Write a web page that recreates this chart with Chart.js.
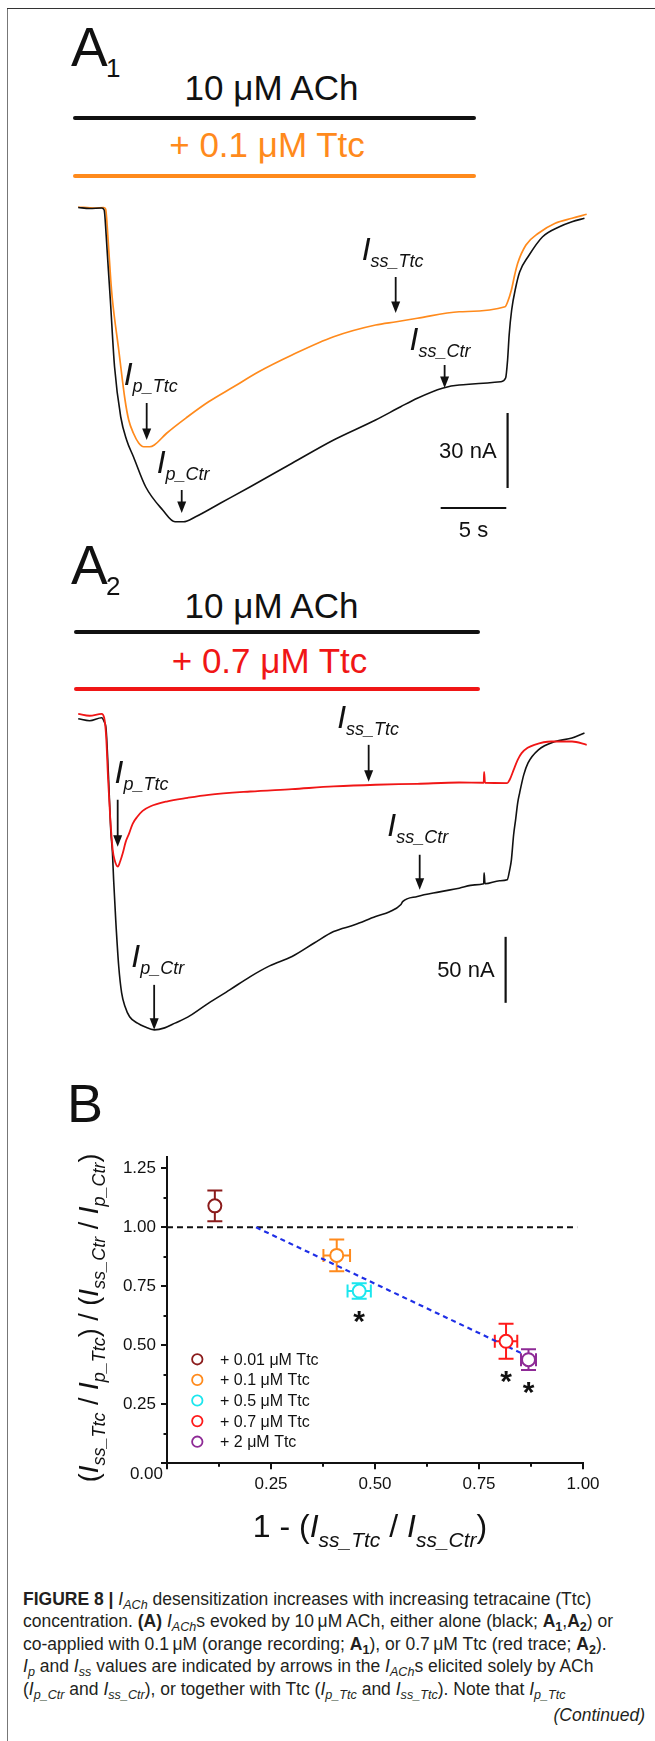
<!DOCTYPE html>
<html><head><meta charset="utf-8">
<script src="https://cdn.jsdelivr.net/npm/chart.js@4.4.1/dist/chart.umd.min.js"></script>
<style>
html,body{margin:0;padding:0;background:#fff;}
body{width:655px;height:1741px;position:relative;overflow:hidden;font-family:'Liberation Sans',Arial,Helvetica,sans-serif;color:#111;}
.abs{position:absolute;white-space:nowrap;line-height:1;}
canvas{position:absolute;}
.bar{position:absolute;height:4px;border-radius:2px;}
#caption{position:absolute;left:23px;top:1587.7px;font-size:17.5px;line-height:22.5px;color:#231f20;white-space:nowrap;}
#caption sub{font-size:0.72em;line-height:0;vertical-align:-0.3em;}
#cont{position:absolute;right:10px;font-size:17.5px;line-height:1;color:#231f20;font-style:italic;}
</style></head>
<body>
<div style="position:absolute;left:7px;top:8px;width:1px;height:1733px;background:#777"></div>
<div style="position:absolute;left:7px;top:8px;width:648px;height:1px;background:#333"></div>

<div class="bar" style="left:73px;top:116px;width:403px;background:#111"></div>
<div class="bar" style="left:73px;top:174px;width:403px;background:#ff8a1c"></div>
<div class="bar" style="left:74px;top:630px;width:406px;background:#111"></div>
<div class="bar" style="left:74px;top:687px;width:406px;background:#f01616"></div>

<canvas id="a1" width="551" height="375" style="left:58px;top:183px"></canvas>
<canvas id="a2" width="551" height="343" style="left:58px;top:699px"></canvas>
<canvas id="b" width="655" height="420" style="left:0px;top:1140px"></canvas>

<div id="caption"><b>FIGURE 8 |</b> <i>I</i><sub><i>ACh</i></sub> desensitization increases with increasing tetracaine (Ttc)<br>concentration. <b>(A)</b> <i>I</i><sub><i>ACh</i></sub>s evoked by 10&#8201;μM ACh, either alone (black; <b>A<sub>1</sub></b>,<b>A<sub>2</sub></b>) or<br>co-applied with 0.1&#8201;μM (orange recording; <b>A<sub>1</sub></b>), or 0.7&#8201;μM Ttc (red trace; <b>A<sub>2</sub></b>).<br><i>I</i><sub><i>p</i></sub> and <i>I</i><sub><i>ss</i></sub> values are indicated by arrows in the <i>I</i><sub><i>ACh</i></sub>s elicited solely by ACh<br>(<i>I</i><sub><i>p_Ctr</i></sub> and <i>I</i><sub><i>ss_Ctr</i></sub>), or together with Ttc (<i>I</i><sub><i>p_Ttc</i></sub> and <i>I</i><sub><i>ss_Ttc</i></sub>). Note that <i>I</i><sub><i>p_Ttc</i></sub></div>
<div id="cont" style="top:1706.9px">(Continued)</div>

<script>
// ---------------- DATA ----------------
// Panel A1 traces: [time (s), current (nA)]
const a1Black = [[0.04,0.2],[0.91,-0.2],[1.83,0],[2.02,-0.8],[2.17,-10.8],[2.29,-20.8],[2.49,-36.8],[2.81,-63.5],[3.28,-83.5],[3.73,-92.8],[4.25,-99.5],[5.18,-111.5],[6.48,-120.8],[7.42,-125.5],[8.06,-125.5],[8.99,-123.5],[10.9,-118],[13.16,-111.5],[16.34,-102.1],[19.51,-92.8],[22.71,-84.8],[24.62,-79.5],[25.89,-76.1],[27.8,-72.1],[29.08,-70.8],[32.24,-69.5],[32.62,-68],[32.77,-60.8],[32.89,-50.8],[33.08,-40.8],[33.38,-32],[33.69,-25.6],[34.33,-19.5],[35.44,-11.5],[36.72,-7.5],[37.68,-5.5],[38.63,-4.1]];
const a1Orange = [[0.04,0.4],[1.3,0],[1.98,0.2],[2.13,-0.4],[2.32,-12.8],[2.52,-28.8],[2.65,-36.8],[3.13,-56.8],[3.61,-76.8],[3.89,-84.8],[4.25,-90.1],[4.65,-94],[5.03,-95.5],[5.49,-95.5],[5.84,-94.8],[6.78,-90.1],[8.38,-83.5],[9.98,-77.5],[11.89,-71.5],[13.8,-65.5],[16.34,-58.8],[19.51,-51.5],[22.71,-46.8],[24.3,-45.5],[25.89,-44.1],[29.08,-41.5],[32.58,-39.5],[32.77,-37.6],[33.06,-32.8],[33.31,-26.8],[33.54,-22.1],[34.17,-14.8],[35.12,-10.1],[36.4,-6.1],[37.68,-4.1],[38.8,-2.5]];
// Panel A2 traces: [time (s), current (nA)]
const a2Black = [[0.04,0],[0.91,-1.5],[1.83,0.8],[2.02,-2.3],[2.17,-8.3],[2.36,-46.2],[2.52,-84.2],[2.65,-101.6],[2.74,-122],[2.9,-152.4],[3.13,-187.8],[3.35,-207.7],[3.61,-218.1],[3.96,-225.9],[4.56,-230.7],[5.11,-233.5],[5.84,-235.8],[6.63,-234.3],[7.42,-230.7],[8.54,-225.2],[9.98,-215.5],[11.59,-205.5],[13.16,-195.4],[14.63,-187.3],[16.34,-180.2],[18.06,-169.8],[19.51,-161.3],[21.11,-156.2],[22.71,-149.9],[23.78,-146.3],[24.62,-141],[24.77,-138.6],[25.89,-134.7],[27.59,-131.2],[29.08,-128.4],[30.26,-125.9],[30.95,-125.1],[30.98,-116.8],[31.05,-125.1],[32.16,-122.8],[32.74,-122.1],[32.93,-114.5],[33.06,-106.9],[33.23,-87.9],[33.38,-76.6],[33.54,-63.7],[33.69,-56.1],[34,-42.5],[34.33,-33.4],[35.12,-23.5],[36.4,-17.2],[37.68,-14.6],[38.63,-10.8]];
const a2Red = [[0.04,3.8],[0.91,2.3],[1.83,3.8],[2.02,0.8],[2.17,-13.4],[2.32,-46.2],[2.49,-76.6],[2.67,-99.3],[2.81,-106.9],[3.06,-112],[3.23,-108.4],[3.44,-101.8],[3.66,-93.3],[3.93,-86.7],[4.19,-79.6],[4.56,-74.1],[4.95,-69.8],[5.52,-66.5],[6.78,-62.7],[8.38,-59.9],[9.98,-57.6],[13.16,-55.1],[16.34,-53.3],[19.51,-51.3],[22.71,-50],[25.89,-49.3],[29.08,-48.3],[30.95,-48.5],[30.98,-40.2],[31.05,-48.5],[32.74,-48.7],[32.93,-46.2],[33.23,-38.7],[33.54,-31.1],[33.84,-26],[34.3,-22],[34.81,-19.7],[36.08,-17.2],[37.68,-17.2],[38.8,-19.7]];
// Arrow tips and label anchors, in data units [time, current]
const a1Subs = ['ss_Ttc','ss_Ctr','p_Ttc','p_Ctr'];
const a1Tips = [[24.24,-42],[27.97,-72],[5.26,-92.8],[7.93,-122]];
const a1LabelAt = [[21.65,-20.8],[25.3,-56.8],[3.51,-70.8],[6.02,-106]];
const a2Subs = ['ss_Ttc','p_Ttc','ss_Ctr','p_Ctr'];
const a2Tips = [[22.18,-47.8],[3.05,-97],[26.07,-129.6],[5.83,-235.8]];
const a2LabelAt = [[19.78,-7.1],[2.81,-48.7],[23.6,-89.2],[4.09,-187.8]];
// Panel B
const bLabels = ['+ 0.01 μM Ttc','+ 0.1 μM Ttc','+ 0.5 μM Ttc','+ 0.7 μM Ttc','+ 2 μM Ttc'];
const bX = [0.115, 0.408, 0.462, 0.815, 0.869];
const bY = [1.091, 0.881, 0.730, 0.517, 0.439];
const bXErr = [0, 0.032, 0.028, 0.027, 0.018];
const bYErr = [0.065, 0.067, 0.033, 0.074, 0.044];
const bSignif = [false, false, true, true, true];
const fitX = [0.214, 0.873];
const fitY = [1.0, 0.449];
const refX = [0, 0.986];
const refY = [1, 1];
const xTickVals = [0.25, 0.5, 0.75, 1.0];
const yTickVals = [0, 0.25, 0.5, 0.75, 1.0, 1.25];

// ---------------- HELPERS ----------------
const FF = "'Liberation Sans', Arial, Helvetica, sans-serif";
Chart.defaults.font.family = FF;
Chart.defaults.color = '#111';

function lab(html, x, base, fs, opt) {
  opt = opt || {};
  const d = document.createElement('div');
  d.className = 'abs';
  d.innerHTML = html;
  d.style.fontSize = fs + 'px';
  d.style.left = x + 'px';
  d.style.top = (base - 0.8465 * fs) + 'px';
  if (opt.color) d.style.color = opt.color;
  if (opt.align === 'center') d.style.transform = 'translateX(-50%)';
  if (opt.align === 'right') d.style.transform = 'translateX(-100%)';
  document.body.appendChild(d);
}
lab('A', 71, 67, 55);
lab('1', 106, 77, 26);
lab('10 μM ACh', 271.5, 100, 35, {align:'center'});
lab('+ 0.1 μM Ttc', 267, 157, 35, {align:'center', color:'#ff8a1c'});
lab('A', 71, 585, 55);
lab('2', 106, 595, 26);
lab('10 μM ACh', 271.5, 618, 35, {align:'center'});
lab('+ 0.7 μM Ttc', 269.5, 673, 35, {align:'center', color:'#f01616'});
lab('B', 67, 1122, 54);

function drawRich(ctx, parts, x, y, align) {
  let w = 0;
  const ws = parts.map(p => { ctx.font = p[1]; const m = ctx.measureText(p[0]).width; w += m; return m; });
  let cx = align === 'center' ? x - w / 2 : (align === 'right' ? x - w : x);
  parts.forEach((p, i) => { ctx.font = p[1]; ctx.fillText(p[0], cx, y + (p[2] || 0)); cx += ws[i]; });
}

const traceAnn = {
  id: 'traceAnn',
  afterDatasetsDraw(chart, args, o) {
    const ctx = chart.ctx, xs = chart.scales.x, ys = chart.scales.y;
    ctx.save();
    ctx.fillStyle = '#111'; ctx.strokeStyle = '#111';
    ctx.textBaseline = 'alphabetic'; ctx.textAlign = 'left';
    o.tips.forEach((t, k) => {
      const px = xs.getPixelForValue(t[0]), py = ys.getPixelForValue(t[1]);
      const len = o.lens[k];
      ctx.lineWidth = 1.8;
      ctx.beginPath(); ctx.moveTo(px, py - len); ctx.lineTo(px, py - 9); ctx.stroke();
      ctx.beginPath(); ctx.moveTo(px - 4.5, py - 11.5); ctx.lineTo(px + 4.5, py - 11.5); ctx.lineTo(px, py); ctx.closePath(); ctx.fill();
    });
    o.labelAt.forEach((l, k) => {
      const px = xs.getPixelForValue(l[0]), py = ys.getPixelForValue(l[1]);
      drawRich(ctx, [['I', 'italic 32px ' + FF, 0], [o.subs[k], 'italic 18px ' + FF, 7]], px, py, 'left');
    });
    ctx.lineWidth = 2.2;
    const sb = o.scaleBar;
    const vx = xs.getPixelForValue(sb.vx);
    ctx.beginPath(); ctx.moveTo(vx, ys.getPixelForValue(sb.vy0)); ctx.lineTo(vx, ys.getPixelForValue(sb.vy0 - sb.nA)); ctx.stroke();
    ctx.font = '22px ' + FF; ctx.textAlign = 'right'; ctx.textBaseline = 'middle';
    ctx.fillText(sb.nA + ' nA', xs.getPixelForValue(sb.vx) - 11, ys.getPixelForValue(sb.vy0 - sb.nA / 2) + 1);
    if (sb.sec) {
      const hy = ys.getPixelForValue(sb.hy);
      ctx.beginPath(); ctx.moveTo(xs.getPixelForValue(sb.hx0), hy); ctx.lineTo(xs.getPixelForValue(sb.hx0 + sb.sec), hy); ctx.stroke();
      ctx.textAlign = 'center'; ctx.textBaseline = 'alphabetic';
      ctx.fillText(sb.sec + ' s', xs.getPixelForValue(sb.hx0 + sb.sec / 2), hy + 29);
    }
    ctx.restore();
  }
};

function pts(arr) { return arr.map(p => ({x: p[0], y: p[1]})); }

function traceChart(id, sets, ymin, ymax, ann) {
  return new Chart(document.getElementById(id), {
    type: 'line',
    data: { datasets: sets.map(s => ({
      data: pts(s.d), borderColor: s.c, borderWidth: s.w, pointRadius: 0,
      cubicInterpolationMode: 'monotone', fill: false
    })) },
    options: {
      responsive: false, animation: false, devicePixelRatio: 1,
      layout: { padding: 0 },
      scales: {
        x: { type: 'linear', min: -1.5, max: 40.5, display: false },
        y: { type: 'linear', min: ymin, max: ymax, display: false }
      },
      plugins: { legend: { display: false }, tooltip: { enabled: false }, traceAnn: ann }
    },
    plugins: [traceAnn]
  });
}

traceChart('a1', [{d: a1Black, c: '#111', w: 1.6}, {d: a1Orange, c: '#ff8a1c', w: 1.7}], -140, 10, {
  tips: a1Tips, lens: [36, 23, 37, 23], labelAt: a1LabelAt, subs: a1Subs,
  scaleBar: { vx: 32.77, vy0: -82, nA: 30, hx0: 27.67, hy: -120, sec: 5 }
});
traceChart('a2', [{d: a2Red, c: '#f01616', w: 1.8}, {d: a2Black, c: '#111', w: 1.6}], -245, 15, {
  tips: a2Tips, lens: [37, 47, 35, 45], labelAt: a2LabelAt, subs: a2Subs,
  scaleBar: { vx: 32.62, vy0: -165.3, nA: 50 }
});

// ---------------- PANEL B ----------------
const bColors = ['#8b1c1c', '#ff8a1c', '#1ce6ee', '#ff1a1a', '#8e2a96'];

const bAnn = {
  id: 'bAnn',
  beforeDatasetsDraw(chart) {
    const ctx = chart.ctx, xs = chart.scales.x, ys = chart.scales.y;
    ctx.save();
    ctx.lineWidth = 2;
    bX.forEach((xv, i) => {
      ctx.strokeStyle = bColors[i];
      const px = xs.getPixelForValue(xv), py = ys.getPixelForValue(bY[i]);
      const y0 = ys.getPixelForValue(bY[i] - bYErr[i]), y1 = ys.getPixelForValue(bY[i] + bYErr[i]);
      ctx.beginPath();
      ctx.moveTo(px, y0); ctx.lineTo(px, y1);
      ctx.moveTo(px - 7.5, y0); ctx.lineTo(px + 7.5, y0);
      ctx.moveTo(px - 7.5, y1); ctx.lineTo(px + 7.5, y1);
      if (bXErr[i] > 0) {
        const x0 = xs.getPixelForValue(xv - bXErr[i]), x1 = xs.getPixelForValue(xv + bXErr[i]);
        ctx.moveTo(x0, py); ctx.lineTo(x1, py);
        ctx.moveTo(x0, py - 6.5); ctx.lineTo(x0, py + 6.5);
        ctx.moveTo(x1, py - 6.5); ctx.lineTo(x1, py + 6.5);
      }
      ctx.stroke();
    });
    ctx.restore();
  },
  afterDraw(chart) {
    const ctx = chart.ctx, xs = chart.scales.x, ys = chart.scales.y, a = chart.chartArea;
    ctx.save();
    ctx.strokeStyle = '#111'; ctx.fillStyle = '#111'; ctx.lineWidth = 2;
    ctx.beginPath();
    for (let k = 0; k <= 10; k++) {
      const v = k * 0.125; const L = (k % 2 === 0) ? 6 : 3.5;
      if (v <= 1.3) { const py = Math.round(ys.getPixelForValue(v)); ctx.moveTo(a.left, py); ctx.lineTo(a.left - L, py); }
      if (v <= 1.0) { const px = Math.round(xs.getPixelForValue(v)); ctx.moveTo(px, a.bottom); ctx.lineTo(px, a.bottom + L); }
    }
    ctx.stroke();
    ctx.font = '17px ' + FF; ctx.textAlign = 'right'; ctx.textBaseline = 'middle';
    ctx.fillText('0.00', a.left - 4, ys.getPixelForValue(0) + 11);
    ctx.font = 'bold 30px ' + FF; ctx.textAlign = 'center'; ctx.textBaseline = 'alphabetic';
    bX.forEach((xv, i) => {
      if (!bSignif[i]) return;
      ctx.fillText('*', xs.getPixelForValue(xv), ys.getPixelForValue(bY[i] - bYErr[i]) + 15 + 17);
    });
    ctx.textAlign = 'left'; ctx.textBaseline = 'middle'; ctx.font = '16px ' + FF;
    bLabels.forEach((t, i) => {
      const ly = 1359.3 - 1140 + i * 20.6;
      ctx.beginPath(); ctx.arc(197.3, ly, 5.2, 0, Math.PI * 2);
      ctx.fillStyle = '#fff'; ctx.fill();
      ctx.strokeStyle = bColors[i]; ctx.lineWidth = 1.8; ctx.stroke();
      ctx.fillStyle = '#111'; ctx.fillText(t, 220, ly + 1);
    });
    ctx.textAlign = 'left'; ctx.textBaseline = 'alphabetic'; ctx.fillStyle = '#111';
    const N = '32px ' + FF, I = 'italic 32px ' + FF, S = 'italic 21px ' + FF;
    drawRich(ctx, [['1 - (', N], ['I', I], ['ss_Ttc', S, 10], [' / ', N], ['I', I], ['ss_Ctr', S, 10], [')', N]],
      (a.left + a.right) / 2 - 5, a.bottom + 73.7, 'center');
    ctx.save();
    ctx.translate(98, (a.top + a.bottom) / 2 + 8);
    ctx.rotate(-Math.PI / 2);
    const n = '27px ' + FF, ii = 'italic 28px ' + FF, s = 'italic 18px ' + FF;
    drawRich(ctx, [['(', n], ['I', ii], ['ss_Ttc', s, 7], [' / ', n], ['I', ii], ['p_Ttc', s, 7], [')', n], [' / ', n],
      ['(', n], ['I', ii], ['ss_Ctr', s, 7], [' / ', n], ['I', ii], ['p_Ctr', s, 7], [')', n]], 0, 0, 'center');
    ctx.restore();
    ctx.restore();
  }
};

const bSets = bX.map((xv, i) => ({
  label: bLabels[i], data: [{x: xv, y: bY[i]}],
  pointRadius: 6.5, pointBorderWidth: 2, pointBorderColor: bColors[i], pointBackgroundColor: '#fff',
  borderColor: bColors[i], backgroundColor: '#fff', showLine: false, order: 1
}));
bSets.push({ label: 'fit', data: fitX.map((v, i) => ({x: v, y: fitY[i]})), showLine: true, pointRadius: 0,
  borderColor: '#1f2fe6', borderWidth: 2.2, borderDash: [5, 4], order: 5 });
bSets.push({ label: 'ref', data: refX.map((v, i) => ({x: v, y: refY[i]})), showLine: true, pointRadius: 0,
  borderColor: '#111', borderWidth: 2, borderDash: [6, 4], order: 6 });

new Chart(document.getElementById('b'), {
  type: 'scatter',
  data: { datasets: bSets },
  options: {
    responsive: false, animation: false, devicePixelRatio: 1,
    layout: { padding: { left: 0, top: 16.5, right: 72, bottom: 0 } },
    scales: {
      x: { type: 'linear', min: 0, max: 1,
        afterFit: s => { s.height = 96.7; s.paddingLeft = 0; s.paddingRight = 0; },
        afterBuildTicks: s => { s.ticks = xTickVals.map(v => ({value: v})); },
        grid: { display: false, drawTicks: false },
        border: { display: true, color: '#111', width: 2 },
        ticks: { padding: 11, font: { size: 17 }, color: '#111', maxRotation: 0, autoSkip: false,
          callback: v => v.toFixed(2) } },
      y: { type: 'linear', min: 0, max: 1.3,
        afterFit: s => { s.width = 167; s.paddingTop = 0; s.paddingBottom = 0; },
        afterBuildTicks: s => { s.ticks = yTickVals.map(v => ({value: v})); },
        grid: { display: false, drawTicks: false },
        border: { display: true, color: '#111', width: 2 },
        ticks: { padding: 11, font: { size: 17 }, color: '#111', autoSkip: false,
          callback: v => v === 0 ? '' : v.toFixed(2) } }
    },
    plugins: { legend: { display: false }, tooltip: { enabled: false } }
  },
  plugins: [bAnn]
});
</script>
</body></html>
